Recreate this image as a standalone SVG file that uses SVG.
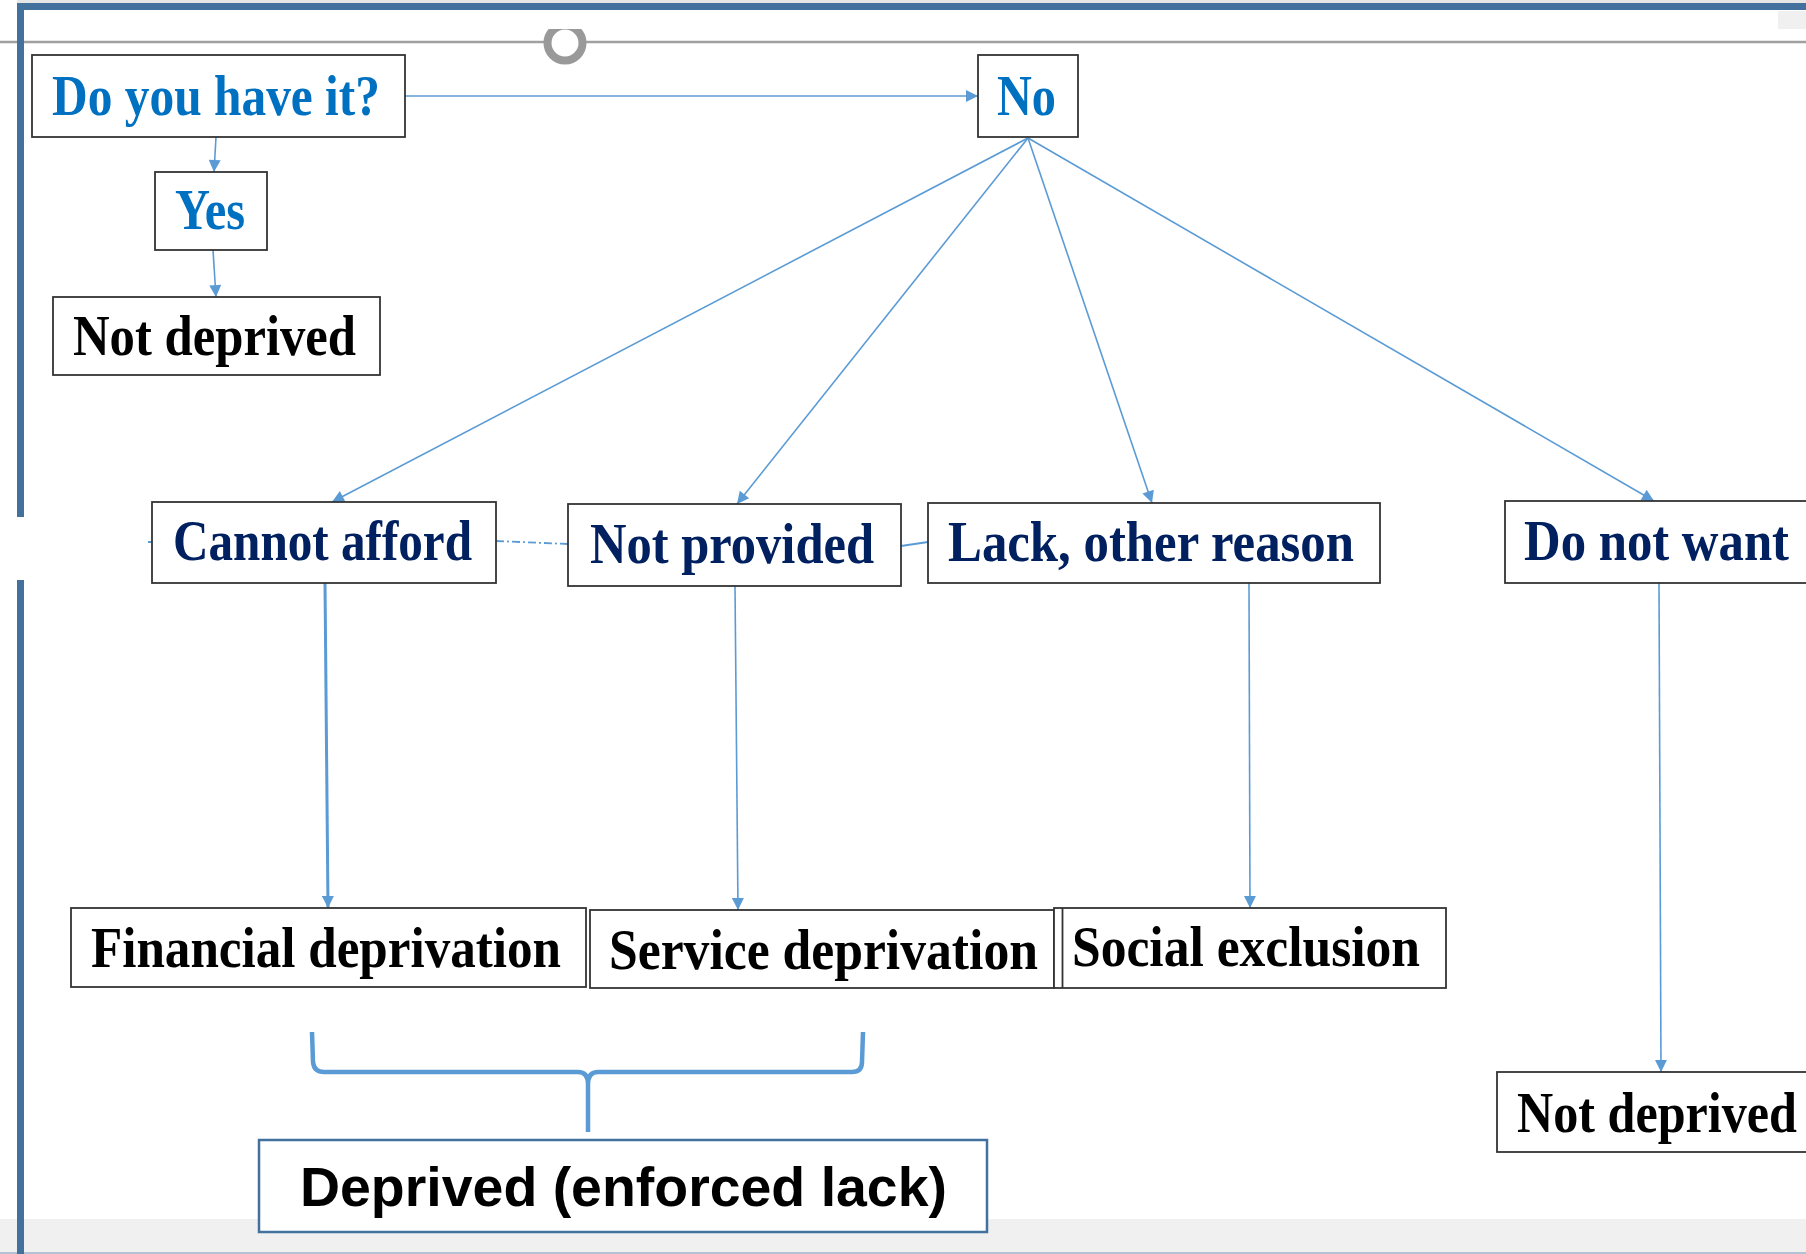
<svg xmlns="http://www.w3.org/2000/svg" width="1806" height="1254" viewBox="0 0 1806 1254">
<defs>
<marker id="arr" viewBox="0 0 10 10" refX="10" refY="5" markerWidth="14" markerHeight="12" markerUnits="userSpaceOnUse" orient="auto"><path d="M0,0 L10,5 L0,10 z" fill="#5b9bd5"/></marker>
</defs>
<style>
.box{fill:#ffffff;stroke:#333333;stroke-width:1.8}
.lbl{font-family:"Liberation Serif","DejaVu Serif",serif;font-weight:bold;font-size:56px}
.blue{fill:#0070c0}
.navy{fill:#002060}
.blk{fill:#000000}
.con{fill:none;stroke:#5b9bd5;stroke-width:1.6}
</style>
<rect x="0" y="0" width="1806" height="1254" fill="#ffffff"/>
<rect x="0" y="1219" width="1806" height="35" fill="#f0f0f0"/>
<line x1="0" y1="1253" x2="1806" y2="1253" stroke="#b4c3d3" stroke-width="2"/>
<rect x="17" y="0" width="1789" height="3" fill="#e6e6e6"/>
<rect x="1778" y="11" width="28" height="18" fill="#f0f0f0"/>
<line x1="0" y1="42" x2="1806" y2="42" stroke="#a0a0a0" stroke-width="2.5"/>
<circle cx="565" cy="43" r="17.5" fill="#ffffff" stroke="#999999" stroke-width="8"/>
<rect x="538" y="11" width="56" height="18" fill="#ffffff"/>
<rect x="17" y="3" width="1789" height="7" fill="#41719c"/>
<rect x="17" y="3" width="7" height="514" fill="#41719c"/>
<rect x="17" y="580" width="7" height="674" fill="#41719c"/>

<g id="connectors">
<line class="con" x1="405" y1="96" x2="978" y2="96" marker-end="url(#arr)"/>
<line class="con" x1="216" y1="137" x2="214" y2="172" marker-end="url(#arr)"/>
<line class="con" x1="213" y1="250" x2="216" y2="297" marker-end="url(#arr)"/>
<line class="con" x1="1028" y1="138" x2="332" y2="502" marker-end="url(#arr)"/>
<line class="con" x1="1028" y1="138" x2="737" y2="504" marker-end="url(#arr)"/>
<line class="con" x1="1028" y1="138" x2="1152" y2="503" marker-end="url(#arr)"/>
<line class="con" x1="1028" y1="138" x2="1654" y2="501" marker-end="url(#arr)"/>
<line class="con" style="stroke-width:3" x1="325" y1="583" x2="328" y2="908" marker-end="url(#arr)"/>
<line class="con" x1="735" y1="586" x2="738" y2="910" marker-end="url(#arr)"/>
<line class="con" x1="1249" y1="583" x2="1250" y2="908" marker-end="url(#arr)"/>
<line class="con" x1="1659" y1="583" x2="1661" y2="1072" marker-end="url(#arr)"/>
<line class="con" style="stroke-width:1.8;stroke-dasharray:8 3 2 3" x1="496" y1="541" x2="568" y2="544"/>
<line class="con" style="stroke-width:2" x1="901" y1="546" x2="928" y2="542"/>
<line class="con" style="stroke-width:2" x1="148" y1="542" x2="152" y2="542"/>
<path class="con" style="stroke-width:4.5" d="M312,1032 L313,1062 Q314,1072 324,1072 L578,1072 Q588,1072 588,1084 L588,1132 M588,1084 Q588,1072 598,1072 L852,1072 Q862,1072 862,1062 L863,1032"/>
</g>

<g id="n-have"><rect class="box" x="32" y="55" width="373" height="82"/><text class="lbl blue" x="52" y="115" textLength="328" lengthAdjust="spacingAndGlyphs">Do you have it?</text></g>
<g id="n-yes"><rect class="box" x="155" y="172" width="112" height="78"/><text class="lbl blue" x="175" y="229" textLength="70" lengthAdjust="spacingAndGlyphs">Yes</text></g>
<g id="n-notdep1"><rect class="box" x="53" y="297" width="327" height="78"/><text class="lbl blk" x="73" y="355" textLength="283" lengthAdjust="spacingAndGlyphs">Not deprived</text></g>
<g id="n-no"><rect class="box" x="978" y="55" width="100" height="82"/><text class="lbl blue" x="997" y="115" textLength="59" lengthAdjust="spacingAndGlyphs">No</text></g>
<g id="n-afford"><rect class="box" x="152" y="502" width="344" height="81"/><text class="lbl navy" x="173" y="560" textLength="299" lengthAdjust="spacingAndGlyphs">Cannot afford</text></g>
<g id="n-provided"><rect class="box" x="568" y="504" width="333" height="82"/><text class="lbl navy" x="590" y="563" textLength="284" lengthAdjust="spacingAndGlyphs">Not provided</text></g>
<g id="n-lack"><rect class="box" x="928" y="503" width="452" height="80"/><text class="lbl navy" x="948" y="561" textLength="406" lengthAdjust="spacingAndGlyphs">Lack, other reason</text></g>
<g id="n-notwant"><rect class="box" x="1505" y="501" width="304" height="82"/><text class="lbl navy" x="1524" y="560" textLength="265" lengthAdjust="spacingAndGlyphs">Do not want</text></g>
<g id="n-financial"><rect class="box" x="71" y="908" width="515" height="79"/><text class="lbl blk" x="91" y="967" textLength="470" lengthAdjust="spacingAndGlyphs">Financial deprivation</text></g>
<g id="n-service"><rect class="box" x="590" y="910" width="464" height="78"/><text class="lbl blk" x="609" y="969" textLength="429" lengthAdjust="spacingAndGlyphs">Service deprivation</text></g>
<g id="n-social"><rect class="box" x="1054" y="908" width="392" height="80"/><line x1="1062.5" y1="908" x2="1062.5" y2="988" stroke="#333333" stroke-width="1.8"/><text class="lbl blk" x="1072" y="966" textLength="348" lengthAdjust="spacingAndGlyphs">Social exclusion</text></g>
<g id="n-notdep2"><rect class="box" x="1497" y="1072" width="312" height="80"/><text class="lbl blk" x="1517" y="1132" textLength="280" lengthAdjust="spacingAndGlyphs">Not deprived</text></g>
<g id="n-deprived"><rect x="259" y="1140" width="728" height="92" fill="#ffffff" stroke="#41719c" stroke-width="2.5"/><text x="300" y="1206" font-family="'Liberation Sans','DejaVu Sans',sans-serif" font-weight="bold" font-size="56" fill="#000000" textLength="647" lengthAdjust="spacingAndGlyphs">Deprived (enforced lack)</text></g>
</svg>
